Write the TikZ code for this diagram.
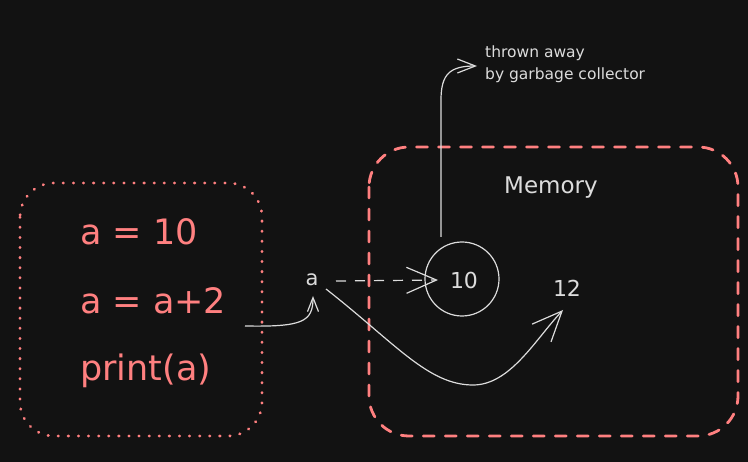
\documentclass[tikz,border=0pt]{standalone}
\usepackage{fontspec}
\setmainfont{DejaVu Sans}
\usetikzlibrary{arrows.meta}
\definecolor{bg}{RGB}{18,18,18}
\definecolor{rd}{RGB}{255,128,128}
\definecolor{wt}{RGB}{220,220,220}
\tikzset{
  codebox/.style={draw=rd, line width=2.8pt, line cap=round, dash pattern=on 0.5pt off 9.6pt, rounded corners=34pt},
  membox/.style={draw=rd, line width=2.8pt, line cap=round, dash pattern=on 11pt off 11pt, rounded corners=40pt},
  code/.style={text=rd, font=\fontsize{35}{40}\selectfont, anchor=west, inner sep=0pt},
  wlabel/.style={text=wt, inner sep=1pt},
  wline/.style={draw=wt, line width=1.2pt},
  bigtip/.style={-{Straight Barb[length=30pt,width=26pt,line width=1.2pt]}},
  midtip/.style={-{Straight Barb[length=18pt,width=14pt,line width=1.2pt]}},
  smalltip/.style={-{Straight Barb[length=14pt,width=11pt,line width=1.2pt]}},
}
\begin{document}
\begin{tikzpicture}[x=1pt,y=-1pt]
\fill[bg] (0,0) rectangle (748,462);
\useasboundingbox (0,0) rectangle (748,462);
% boxes
\draw[codebox] (20,183) rectangle (262,436);
\draw[membox] (369,147) rectangle (738,436);
% code text
\node[code] (l1) at (80,232) {a = 10};
\node[code] (l2) at (80,301) {a = a+2};
\node[code] (l3) at (80,371) {print(a)};
% memory
\node[wlabel, font=\fontsize{23}{26}\selectfont] (mem) at (551,188) {Memory};
\node[draw=wt, line width=1.2pt, circle, minimum size=74pt, inner sep=0pt] (c10) at (462,279) {};
\node[wlabel, font=\fontsize{22}{26}\selectfont] (n10) at (464,280) {10};
\node[wlabel, font=\fontsize{22}{26}\selectfont] (n12) at (567,288) {12};
\node[wlabel, font=\fontsize{21}{24}\selectfont] (va) at (312,280) {a};
% annotation
\node[wlabel, font=\fontsize{15.5}{22}\selectfont, anchor=north west, align=left, inner sep=0pt] (gc) at (485,46) {thrown away\\by garbage collector};
\coordinate (gctip) at (477,66);
\coordinate (codeout) at (245,326);
\coordinate (gcstart) at (441,237);
\coordinate (aout) at (326,289);
\coordinate (tip10) at (438,280);
\coordinate (tip12) at (563,310);
\coordinate (low) at (473,385);
% connectors
\draw[wline, smalltip] (codeout) .. controls (302,327) and (313,322) .. (313,296);
\draw[wline, bigtip, dash pattern=on 10pt off 9pt] (336,281) -- (tip10);
\draw[wline, bigtip] (aout) .. controls (395,343) and (428,385) .. (low) .. controls (510,385) and (535,340) .. (tip12);
\draw[wline, midtip] (gcstart) -- (441,100) .. controls (441,74) and (450,66) .. (gctip);
\end{tikzpicture}
\end{document}
